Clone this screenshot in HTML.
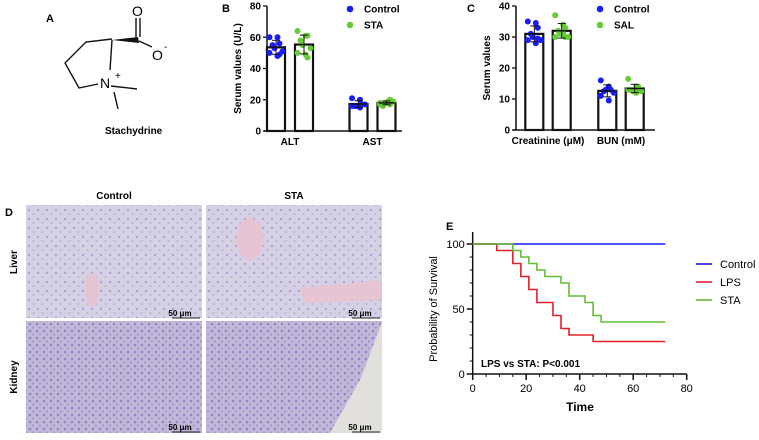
<!DOCTYPE html>
<html><head><meta charset="utf-8"><style>
body{margin:0;background:#fff;width:759px;height:435px;overflow:hidden;font-family:"Liberation Sans",sans-serif}
svg text{font-family:"Liberation Sans",sans-serif}
</style></head><body>
<svg id="fig" width="759" height="435" viewBox="0 0 759 435" xmlns="http://www.w3.org/2000/svg">
<defs>
<pattern id="livtex" width="9" height="9" patternUnits="userSpaceOnUse"><rect width="9" height="9" fill="#d6d0e5"/><circle cx="2" cy="3" r="1.2" fill="#aaa2d3"/><circle cx="6.5" cy="7" r="1" fill="#b5aed9"/></pattern>
<pattern id="kidtex" width="7" height="7" patternUnits="userSpaceOnUse"><rect width="7" height="7" fill="#c3b8d9"/><circle cx="2" cy="2" r="1.3" fill="#9088c4"/><circle cx="5" cy="5.5" r="1.1" fill="#a097cb"/></pattern>
</defs>
<g>
<text x="46" y="22" font-size="11" font-weight="bold">A</text>
<g stroke="#111" stroke-width="1.4" fill="none">
<polyline points="112,39 86,42 65,63 79,88 98,84"/>
<line x1="112" y1="40" x2="110" y2="70"/>
<line x1="111" y1="86" x2="137" y2="89"/>
<line x1="114" y1="92" x2="118" y2="109"/>
<line x1="139" y1="41" x2="152" y2="47"/>
<line x1="136" y1="18" x2="136" y2="37"/><line x1="140" y1="18" x2="140" y2="37"/>
</g>
<polygon points="112,40 138,37 139,43" fill="#111"/>
<text x="132" y="16" font-size="14">O</text>
<text x="152" y="60" font-size="14">O</text><text x="164" y="50" font-size="10">-</text>
<text x="100" y="88" font-size="14">N</text><text x="115" y="79" font-size="10">+</text>
<text x="105" y="134" font-size="10" font-weight="bold">Stachydrine</text>
</g>
<g id="panelB"></g>
<g id="panelC"></g>
<g>
<text x="5" y="216" font-size="11" font-weight="bold">D</text>
<text x="114" y="199" font-size="10" font-weight="bold" text-anchor="middle">Control</text>
<text x="294" y="199" font-size="10" font-weight="bold" text-anchor="middle">STA</text>
<text transform="translate(17,262) rotate(-90)" font-size="10" font-weight="bold" text-anchor="middle">Liver</text>
<text transform="translate(17,377) rotate(-90)" font-size="10" font-weight="bold" text-anchor="middle">Kidney</text>
<rect x="26" y="205" width="176" height="113" fill="url(#livtex)"/>
<rect x="206" y="205" width="176" height="113" fill="url(#livtex)"/>
<rect x="26" y="321" width="176" height="112" fill="url(#kidtex)"/>
<rect x="206" y="321" width="176" height="112" fill="url(#kidtex)"/>
<ellipse cx="92" cy="290" rx="7" ry="17" fill="#e8c2cf" opacity="0.9"/>
<ellipse cx="250" cy="239" rx="14" ry="21" fill="#e8c2cf" opacity="0.9"/>
<polygon points="300,288 382,280 382,300 305,303" fill="#e8c2cf" opacity="0.9"/>
<polygon points="382,322 382,433 330,433 360,380" fill="#e2e0dd"/>
<g font-size="8" font-weight="bold">
<text x="180" y="316" text-anchor="middle">50 μm</text><line x1="172" y1="318" x2="200" y2="318" stroke="#222"/>
<text x="360" y="316" text-anchor="middle">50 μm</text><line x1="352" y1="318" x2="380" y2="318" stroke="#222"/>
<text x="180" y="430" text-anchor="middle">50 μm</text><line x1="172" y1="432" x2="200" y2="432" stroke="#222"/>
<text x="360" y="430" text-anchor="middle">50 μm</text><line x1="352" y1="432" x2="380" y2="432" stroke="#222"/>
</g>
</g>
<g id="panelE"></g>
</svg>
<script>
// Panel B data
const bCats=["ALT","AST"];
const bCtrl=[[60,60,56,55,53,51,50,48,49],[21,20,17,16,16,17,16,15]];
const bSta=[[64,61,61,58,55,53,50,49,47],[18,19,17,16,18,19,17,18,20]];
const bTicks=[0,20,40,60,80];
// Panel C data
const cCats=["Creatinine (μM)","BUN (mM)"];
const cCtrl=[[35,34.5,33,31,30,29,29,28,29.5],[16,14,13,12.5,13,12,11,9.5]];
const cSal=[[37,34,33,32,31,30,30,31,30],[16.5,14,13,13,12.5,12.5,13,12,14]];
const cTicks=[0,10,20,30,40];
// Panel E data
const eTicksX=[0,20,40,60,80];
const eTicksY=[0,50,100];
const ctrlT=[0,72],ctrlP=[100,100];
const lpsT=[0,9,15,18,21,24,30,33,36,45,72];
const lpsP=[100,95,85,75,65,55,45,35,30,25,25];
const staT=[0,15,18,21,24,27,33,36,42,45,48,72];
const staP=[100,95,90,85,80,75,70,60,55,45,40,40];

const NS="http://www.w3.org/2000/svg";
function mk(parent,tag,attrs,txt){const e=document.createElementNS(NS,tag);for(const k in attrs)e.setAttribute(k,attrs[k]);if(txt!==undefined)e.textContent=txt;parent.appendChild(e);return e;}
const mean=a=>a.reduce((s,v)=>s+v,0)/a.length;
const sd=a=>{const m=mean(a);return Math.sqrt(a.reduce((s,v)=>s+(v-m)*(v-m),0)/(a.length-1));};

function barChart(g,o){
  const y=v=>o.y0-(v/o.ymax)*(o.y0-o.ytop);
  mk(g,"line",{x1:o.ax,y1:o.ytop,x2:o.ax,y2:o.y0,stroke:"#111","stroke-width":1.5});
  mk(g,"line",{x1:o.ax-3,y1:o.y0,x2:o.axEnd,y2:o.y0,stroke:"#111","stroke-width":1.5});
  o.ticks.forEach(t=>{
    mk(g,"line",{x1:o.ax-4,y1:y(t),x2:o.ax,y2:y(t),stroke:"#111","stroke-width":1.3});
    const tl=mk(g,"text",{x:o.ax-6,y:y(t)+3.5,"font-size":10,"font-weight":"bold","text-anchor":"end"},t);
    
    
  });
  const yl=mk(g,"text",{transform:`translate(${o.ylx},${(o.y0+o.ytop)/2}) rotate(-90)`,"font-size":10,"font-weight":"bold","text-anchor":"middle"},o.ylabel);
  
  
  const groups=[[o.s1,"#1a1aff"],[o.s2,"#66cc33"]];
  o.cats.forEach((c,i)=>{
    const cx=o.catX[i];
    const xl=mk(g,"text",{x:cx,y:o.y0+14,"font-size":10,"font-weight":"bold","text-anchor":"middle"},c);
    
    
    groups.forEach(([s,col],j)=>{
      const vals=s[i],m=mean(vals),d=sd(vals);
      const bx=cx+(j===0?-o.gap-o.bw:o.gap);
      const r=mk(g,"rect",{x:bx,y:y(m),width:o.bw,height:o.y0-y(m),fill:"#fff",stroke:"#111","stroke-width":2.2});
      
      
      const mx=bx+o.bw/2;
      vals.forEach((v,k)=>{
        const off=((k%3)-1)*5+((k%2)?1.5:-1.5);
        const p=mk(g,"circle",{cx:mx+off,cy:y(v),r:3,fill:col});
        
        
      });
      mk(g,"line",{x1:mx,y1:y(m+d),x2:mx,y2:y(m-d),stroke:"#111","stroke-width":1});
      mk(g,"line",{x1:mx-4,y1:y(m+d),x2:mx+4,y2:y(m+d),stroke:"#111","stroke-width":1});
      mk(g,"line",{x1:mx-4,y1:y(m-d),x2:mx+4,y2:y(m-d),stroke:"#111","stroke-width":1});
      mk(g,"line",{x1:mx-8,y1:y(m),x2:mx+8,y2:y(m),stroke:"#111","stroke-width":1.5});
    });
  });
  o.legend.forEach((l,i)=>{
    const le=mk(g,"g",{});
    
    
    mk(le,"circle",{cx:o.lx,cy:o.ly+i*16,r:3.3,fill:l[1]});
    mk(le,"text",{x:o.lx+14,y:o.ly+i*16+3.5,"font-size":10,"font-weight":"bold"},l[0]);
  });
  mk(g,"text",{x:o.lbx,y:12,"font-size":11,"font-weight":"bold"},o.letter);
}
barChart(document.getElementById("panelB"),{letter:"B",lbx:222,ax:267,axEnd:402,y0:131,ytop:6,ymax:80,ticks:bTicks,cats:bCats,catX:[290,372.5],gap:5,bw:18,s1:bCtrl,s2:bSta,ylabel:"Serum values (U/L)",ylx:241,legend:[["Control","#1a1aff"],["STA","#66cc33"]],lx:350,ly:9});
barChart(document.getElementById("panelC"),{letter:"C",lbx:467,ax:516,axEnd:655,y0:130,ytop:6,ymax:40,ticks:cTicks,cats:cCats,catX:[548,621],gap:4.7,bw:18,s1:cCtrl,s2:cSal,ylabel:"Serum values",ylx:490,legend:[["Control","#1a1aff"],["SAL","#66cc33"]],lx:600,ly:9});

(function(){
  const g=document.getElementById("panelE");
  const x0=472.7,y0=374,xs=(686.7-472.7)/80,ys=130/100;
  const X=t=>x0+t*xs,Y=p=>y0-p*ys;
  mk(g,"line",{x1:x0,y1:232,x2:x0,y2:y0,stroke:"#111","stroke-width":1.5});
  mk(g,"line",{x1:x0,y1:y0,x2:X(80),y2:y0,stroke:"#111","stroke-width":1.5});
  for(let v=0;v<=100;v+=10)mk(g,"line",{x1:x0-3,y1:Y(v),x2:x0,y2:Y(v),stroke:"#111","stroke-width":1});
  for(let v=0;v<=80;v+=5)mk(g,"line",{x1:X(v),y1:y0,x2:X(v),y2:y0+3,stroke:"#111","stroke-width":1});
  eTicksY.forEach(t=>{
    mk(g,"line",{x1:x0-6,y1:Y(t),x2:x0,y2:Y(t),stroke:"#111","stroke-width":1.5});
    const e=mk(g,"text",{x:x0-8,y:Y(t)+4,"font-size":11,"text-anchor":"end"},t);
    
    
  });
  eTicksX.forEach(t=>{
    mk(g,"line",{x1:X(t),y1:y0,x2:X(t),y2:y0+6,stroke:"#111","stroke-width":1.5});
    const e=mk(g,"text",{x:X(t),y:y0+18,"font-size":11,"text-anchor":"middle"},t);
    
    
  });
  const step=(T,P)=>{let d=`M${X(T[0])},${Y(P[0])}`;for(let i=1;i<T.length;i++){d+=` H${X(T[i])} V${Y(P[i])}`;}return d;};
  const series=[[ctrlT,ctrlP,"#1a1aff","Control"],[lpsT,lpsP,"#e8202a","LPS"],[staT,staP,"#66bb33","STA"]];
  series.forEach(([T,P,c,n],i)=>{
    const p=mk(g,"path",{d:step(T,P),fill:"none",stroke:c,"stroke-width":1.6});
    
    
    const le=mk(g,"g",{});
    
    
    mk(le,"line",{x1:696,y1:264+i*18,x2:712,y2:264+i*18,stroke:c,"stroke-width":1.6});
    mk(le,"text",{x:720,y:268+i*18,"font-size":11},n);
  });
  mk(g,"text",{x:446,y:230,"font-size":11,"font-weight":"bold"},"E");
  const t=mk(g,"text",{transform:`translate(437,309) rotate(-90)`,"font-size":11,"text-anchor":"middle"},"Probability of Survival");
  
  
  const xt=mk(g,"text",{x:580,y:411,"font-size":12,"font-weight":"bold","text-anchor":"middle"},"Time");
  
  
  const an=mk(g,"text",{x:481,y:367,"font-size":10,"font-weight":"bold"},"LPS vs STA:  P<0.001");
  
  
})();
</script>
</body></html>
